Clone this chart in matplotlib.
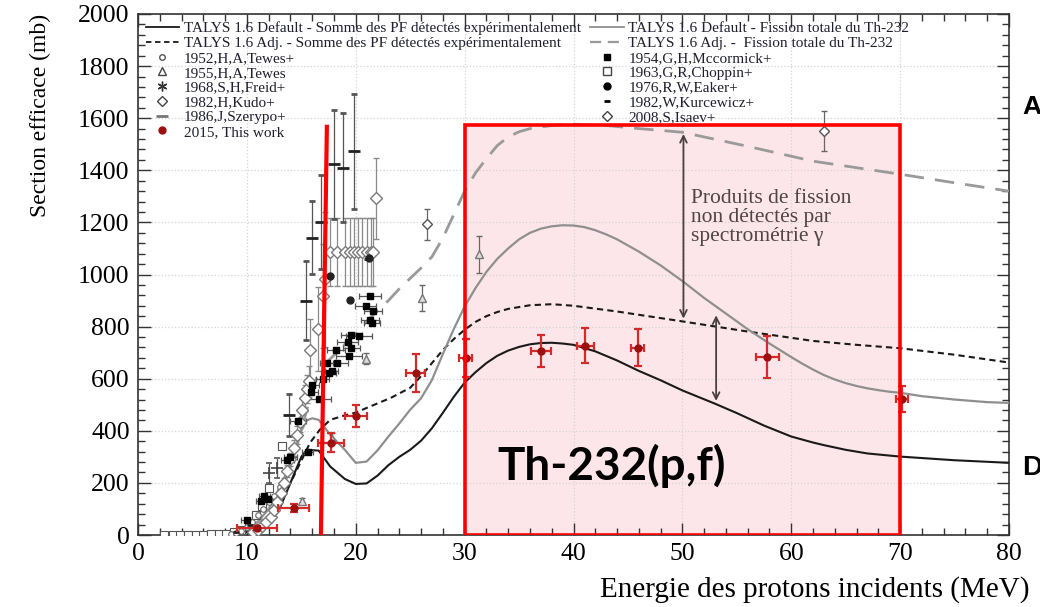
import matplotlib
matplotlib.use("Agg")
import matplotlib.pyplot as plt
from matplotlib.lines import Line2D
from matplotlib.patches import Rectangle

# ---- TALYS curves (E in MeV, sigma in mb) ----
def_pf_E = [7, 8, 9, 10, 11, 12, 13, 14, 15, 15.5, 16.6, 17.65, 19, 20, 21, 22, 23, 24, 25, 26, 27, 28,
            29, 30, 31, 32, 33, 34, 35, 36, 37, 38, 39, 40, 42, 44, 46, 48, 50, 53, 55, 57.5, 60, 62, 63,
            65, 67, 70, 75, 80]
def_pf_sig = [0, 2, 5, 12, 25, 50, 100, 200, 300, 327, 324, 263, 215, 196, 198, 228, 268, 300, 327, 362,
              410, 469, 530, 585, 625, 660, 688, 708, 722, 732, 737, 738, 735, 730, 705, 670, 630, 594, 555,
              504, 468, 420, 378, 355, 345, 327, 313, 301, 287, 277]

adj_pf_E = [9, 10, 11, 12, 13, 14, 15, 15.8, 16.7, 17.65, 18.9, 20, 21.3, 23.2, 25, 26, 27, 28, 29, 30,
            31, 32, 33, 34, 36, 38, 40, 44, 50, 56, 62, 66, 70, 75, 80]
adj_pf_sig = [3, 10, 30, 65, 120, 200, 285, 354, 404, 442, 458, 470, 493, 526, 565, 610, 660, 710, 752, 788,
              818, 840, 856, 868, 882, 886, 880, 858, 820, 781, 745, 730, 717, 692, 662]

def_tot_E = [7, 8, 9, 10, 11, 12, 13, 14, 15, 15.5, 16, 16.6, 17.65, 19, 20, 21, 22, 23, 24, 25, 26, 27,
             28, 29, 30, 31, 32, 33, 34, 35, 36, 37, 38, 39, 40, 41, 42, 43, 44, 46, 48, 50, 52, 54, 56,
             58, 60, 61, 62, 63, 64, 65, 66, 67, 68, 69, 70, 72, 75, 78, 80]
def_tot_sig = [0, 3, 8, 20, 50, 100, 180, 270, 400, 440, 448, 442, 385, 327, 277, 282, 325, 378, 428, 481,
               525, 595, 695, 790, 877, 948, 1010, 1060, 1100, 1135, 1160, 1176, 1185, 1189, 1188, 1182,
               1170, 1154, 1135, 1088, 1035, 975, 910, 850, 790, 735, 683, 658, 635, 614, 597, 583, 572,
               563, 556, 550, 546, 533, 520, 510, 507]

adj_tot_E = [10, 12, 13, 14, 15, 16, 16.6, 17.5, 18.5, 19.2, 20.1, 21, 22, 23, 24, 25, 26, 27, 28, 29, 30,
             31, 32, 33, 34, 35, 36, 38, 40, 43, 45.5, 50, 56, 62, 70, 75, 80]
adj_tot_sig = [20, 80, 150, 260, 400, 560, 623, 670, 710, 740, 777, 820, 860, 900, 945, 985, 1025, 1068,
               1140, 1230, 1320, 1390, 1445, 1495, 1528, 1548, 1560, 1572, 1577, 1572, 1562, 1546, 1492,
               1435, 1385, 1352, 1320]

# ---- experimental data ----
work_E = [10.9, 14.3, 17.75, 20.0, 25.5, 30.1, 37.0, 41.1, 45.9, 57.8, 70.2]
work_dE = [1.85, 1.45, 1.2, 1.0, 0.85, 0.6, 0.9, 0.8, 0.6, 1.05, 0.55]
work_sig = [26, 105, 355, 458, 622, 681, 705, 727, 719, 684, 523]
work_dsig = [8, 15, 35, 42, 73, 73, 62, 66, 70, 80, 50]

kudo_E = [10.6, 11.0, 11.4, 11.8, 12.2, 12.5, 12.8, 13.1, 13.4, 13.7, 14.0, 14.3, 14.6, 14.9, 15.1, 15.3,
          15.5, 15.7, 15.8, 16.5, 17.0, 17.2, 17.6, 18.3, 19.0, 19.5, 19.8, 20.2, 20.6, 21.0, 21.4, 21.6, 21.9]
kudo_sig = [10, 20, 35, 50, 70, 95, 125, 160, 200, 245, 290, 335, 385, 435, 480, 525, 560, 590, 711, 791,
            919, 981, 1085, 1085, 1085, 1085, 1085, 1085, 1085, 1085, 1085, 1085, 1292]
kudo_dsig = [2, 3, 4, 5, 7, 9, 12, 15, 18, 22, 26, 30, 35, 40, 45, 50, 55, 60, 120, 160, 200, 260,
             130, 130, 130, 130, 130, 130, 130, 130, 130, 130, 155]

mcc_E = [10.0, 11.3, 11.6, 11.9, 13.7, 14.0, 14.7, 15.6, 15.9, 16.0, 16.6, 16.95, 17.35, 17.5, 17.8, 18.2,
         18.3, 19.25, 19.4, 19.6, 19.6, 20.3, 20.9, 21.3, 21.3, 21.5, 21.6]
mcc_sig = [58, 130, 150, 140, 288, 301, 438, 317, 550, 577, 523, 600, 660, 623, 631, 711, 660, 740, 688,
           719, 769, 763, 878, 919, 827, 815, 859]
mcc_dE = [0.5, 0.5, 0.5, 0.5, 0.6, 0.6, 0.7, 0.5, 0.6, 0.6, 1.1, 0.6, 0.6, 0.7, 0.6, 0.8, 1.0, 1.0, 1.2,
          0.8, 1.0, 1.2, 1.0, 1.0, 0.8, 0.7, 0.8]

szer_E = [13.9, 15.4, 16.0, 16.8, 17.96, 18.8, 19.8]
szer_sig = [461, 900, 1142, 1201, 1423, 1410, 1473]
szer_dsig = [80, 150, 140, 180, 210, 210, 220]

freid_E = [12.0, 12.75]
freid_sig = [238, 257]
freid_dsig = [40, 40]

eaker_E = [17.65, 19.5, 21.2]
eaker_sig = [994, 904, 1064]

tewes55_E = [15.05, 17.85, 20.9, 26.1, 31.3]
tewes55_sig = [132, 370, 677, 910, 1077]
tewes55_dsig = [10, 20, 20, 50, 70]

isaev_E = [26.5, 63.0]
isaev_sig = [1192, 1551]
isaev_dsig = [60, 77]

choppin_E = [2.4, 3.2, 3.9, 4.6, 5.3, 6.0, 6.7, 7.4, 8.1, 8.8, 9.5, 10.2, 10.8, 11.4, 12.0, 13.2]
choppin_sig = [0, 0, 0, 0, 0, 0, 2, 3, 5, 10, 20, 45, 75, 110, 180, 343]

tewes52_E = [8.5, 9.0, 9.5, 10.0, 10.5, 11.0, 11.5, 12.0, 12.5, 13.0]
tewes52_sig = [3, 8, 15, 30, 50, 75, 100, 125, 150, 185]

kurc_E = [9.0, 10.3, 21.0]
kurc_sig = [12, 40, 1060]

# box / arrows
box_E = [30, 70]
box_sig_top = 1575
arrow1 = (50.1, 1550, 820)
arrow2 = (53.1, 854, 504)

SERIF = ["Liberation Serif", "DejaVu Serif"]

fig = plt.figure(figsize=(10.4, 6.07), dpi=100)
ax = fig.add_axes([138 / 1040, (607 - 535) / 607, (1009 - 138) / 1040, (535 - 14) / 607])

# pink box
ax.add_patch(Rectangle((box_E[0], 0), box_E[1] - box_E[0], box_sig_top,
                       facecolor="#fde6ea", edgecolor="none", zorder=0.5))

# grid
ax.set_axisbelow(True)
ax.grid(True, which="major", color="#d4d4d4", linestyle=":", linewidth=0.9)

# curves
ax.plot(def_pf_E, def_pf_sig, color="#1a1a1a", lw=1.5, zorder=3)
ax.plot(adj_pf_E, adj_pf_sig, color="#1a1a1a", lw=1.5, dashes=(3, 2), zorder=3)
ax.plot(def_tot_E, def_tot_sig, color="#8f8f8f", lw=1.6, zorder=3)
ax.plot(adj_tot_E, adj_tot_sig, color="#9a9a9a", lw=2.0, dashes=(7, 4), zorder=3)

# experimental data
ekw = dict(elinewidth=0.9, capsize=2.5, capthick=0.9, zorder=4)
ax.errorbar(choppin_E, choppin_sig, xerr=0.35, fmt="s", ms=6, mfc="white", mec="#555", ecolor="#666",
            mew=0.8, **ekw)
ax.errorbar(tewes52_E, tewes52_sig, fmt="o", ms=4, mfc="white", mec="#666", mew=0.8, **ekw)
ax.errorbar(kudo_E, kudo_sig, yerr=kudo_dsig, fmt="D", ms=6, mfc="white", mec="#7a7a7a", ecolor="#8a8a8a",
            mew=1.0, **ekw)
ax.errorbar(mcc_E, mcc_sig, xerr=mcc_dE, fmt="s", ms=5, color="black", ecolor="#555", **ekw)
ax.errorbar(szer_E, szer_sig, yerr=szer_dsig, fmt="_", ms=8, mew=2, color="#222", ecolor="#555", **ekw)
ax.errorbar(freid_E, freid_sig, yerr=freid_dsig, fmt="+", ms=8, mew=1.2, color="#444", ecolor="#555", **ekw)
ax.errorbar(eaker_E, eaker_sig, fmt="o", ms=5, color="#222", **ekw)
ax.errorbar(tewes55_E, tewes55_sig, yerr=tewes55_dsig, fmt="^", ms=6, mfc="#ddd", mec="#777",
            ecolor="#666", mew=1.0, **ekw)
ax.errorbar(isaev_E, isaev_sig, yerr=isaev_dsig, fmt="D", ms=5, mfc="white", mec="#555", ecolor="#666",
            mew=1.0, **ekw)
ax.errorbar(kurc_E, kurc_sig, fmt="_", ms=5, mew=2, color="#222", **ekw)
ax.errorbar(work_E, work_sig, xerr=work_dE, yerr=work_dsig, fmt="o", ms=5, mfc="#9c1010", mec="#9c1010",
            ecolor="#d42a2a", elinewidth=1.6, capsize=3, capthick=1.6, zorder=6)

# box edge, red vertical line
ax.add_patch(Rectangle((box_E[0], 0), box_E[1] - box_E[0], box_sig_top,
                       facecolor="none", edgecolor="#ff0000", lw=2.6, zorder=7))
ax.plot([17.35, 16.8], [1575, 0], color="#ff0000", lw=3, zorder=8, solid_capstyle="butt")

# arrows + annotation
for xa, y1, y2 in (arrow1, arrow2):
    ax.annotate("", xy=(xa, y1), xytext=(xa, y2),
                arrowprops=dict(arrowstyle="<->", color="#4a3f3f", lw=1.3, mutation_scale=12), zorder=7)
ax.text(50.8, 1330, "Produits de fission\nnon détectés par\nspectrométrie γ", fontsize=15.5,
        family=SERIF, color="#4f4545", va="top", ha="left", linespacing=1.0, zorder=7)
ax.text(33.0, 211, "Th-232(p,f)", fontsize=33, family=["Lato", "DejaVu Sans"], fontweight="bold",
        color="black", ha="left", va="baseline", zorder=9)

# axes settings
ax.set_xlim(0, 80)
ax.set_ylim(0, 2000)
ax.set_xticks(range(0, 81, 10))
ax.set_xticks(range(0, 81, 2), minor=True)
ax.set_yticks(range(0, 2001, 200))
ax.set_yticks(range(0, 2001, 40), minor=True)
ax.tick_params(which="both", direction="in", top=True, right=True, width=1.0, color="#333")
ax.tick_params(which="major", length=9, labelsize=18.5, pad=6)
ax.tick_params(which="minor", length=5)
for lab in ax.get_xticklabels() + ax.get_yticklabels():
    lab.set_family(SERIF)
for sp in ax.spines.values():
    sp.set_linewidth(1.2)
    sp.set_color("#333")

fig.text(1030 / 1040, 1 - 590 / 607, "Energie des protons incidents (MeV)", fontsize=21, family=SERIF,
         ha="right", va="center")
fig.text(40 / 1040, 1 - 14 / 607, "Section efficace (mb)", fontsize=17, family=SERIF, rotation=90,
         ha="center", va="top")
fig.text(1022 / 1040, 1 - 107 / 607, "A", fontsize=19, fontweight="bold",
         family=["Liberation Sans", "DejaVu Sans"], ha="left", va="center")
fig.text(1022 / 1040, 1 - 468 / 607, "D", fontsize=20, fontweight="bold",
         family=["Liberation Sans", "DejaVu Sans"], ha="left", va="center")

# legend (proxy handles)
handles = [
    Line2D([], [], color="#1a1a1a", lw=1.3),
    Line2D([], [], color="#1a1a1a", lw=1.3, dashes=(3, 2)),
    Line2D([], [], ls="none", marker="o", ms=4, mfc="white", mec="#555"),
    Line2D([], [], ls="none", marker="^", ms=6, mfc="white", mec="#444"),
    Line2D([], [], ls="none", marker=(6, 2, 0), ms=7, color="#333"),
    Line2D([], [], ls="none", marker="D", ms=5, mfc="white", mec="#444"),
    Line2D([], [], ls="none", marker="_", ms=8, mew=2, color="#777"),
    Line2D([], [], ls="none", marker="o", ms=5, color="#9c1010"),
    Line2D([], [], color="#8f8f8f", lw=1.3),
    Line2D([], [], color="#9a9a9a", lw=1.6, dashes=(5, 3)),
    Line2D([], [], ls="none", marker="s", ms=4, color="black"),
    Line2D([], [], ls="none", marker="s", ms=6, mfc="white", mec="#444"),
    Line2D([], [], ls="none", marker="o", ms=5, color="black"),
    Line2D([], [], ls="none", marker="_", ms=5, mew=2, color="black"),
    Line2D([], [], ls="none", marker="D", ms=5, mfc="white", mec="#444"),
]
labels = [
    "TALYS 1.6 Default - Somme des PF détectés expérimentalement",
    "TALYS 1.6 Adj. - Somme des PF détectés expérimentalement",
    "1952,H,A,Tewes+", "1955,H,A,Tewes", "1968,S,H,Freid+", "1982,H,Kudo+", "1986,J,Szerypo+",
    "2015, This work",
    "TALYS 1.6 Default - Fission totale du Th-232",
    "TALYS 1.6 Adj. -  Fission totale du Th-232",
    "1954,G,H,Mccormick+", "1963,G,R,Choppin+", "1976,R,W,Eaker+", "1982,W,Kurcewicz+", "2008,S,Isaev+",
]
leg = ax.legend(handles, labels, ncol=2, loc="upper left", bbox_to_anchor=(0.0, 1.0), frameon=False,
                prop={"family": SERIF, "size": 11}, labelspacing=0.07, handlelength=2.2,
                handletextpad=0.3, columnspacing=0.6, borderaxespad=0.3, borderpad=0.2)
for t in leg.get_texts():
    t.set_color("#1f1f2f")

fig.savefig("out.png", dpi=100)
